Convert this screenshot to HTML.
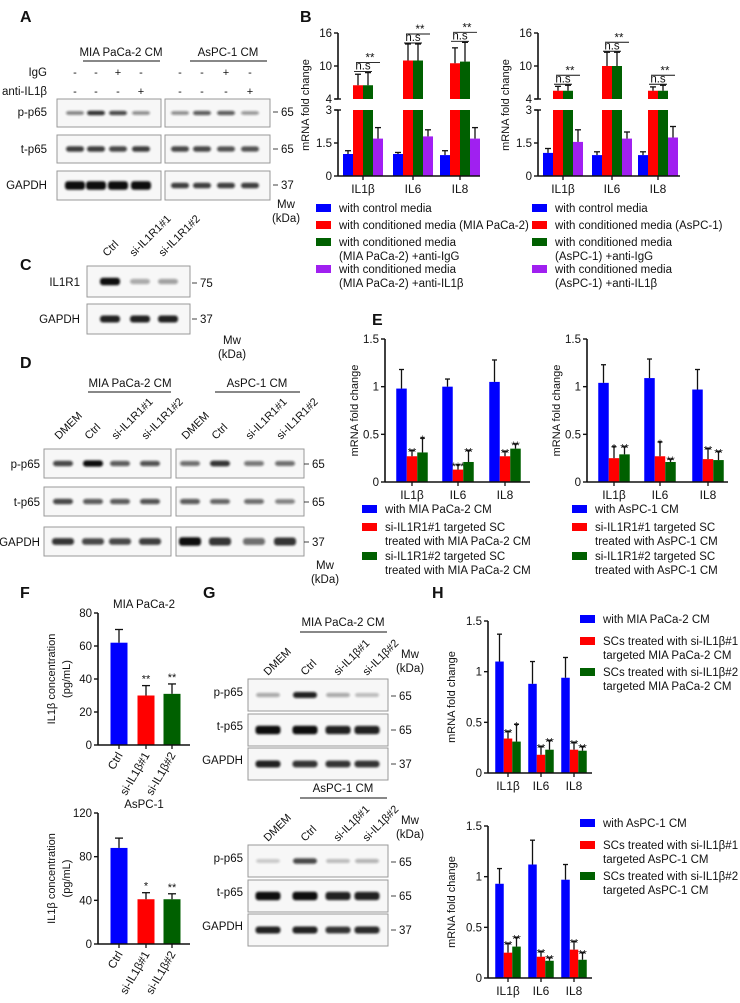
<!DOCTYPE html>
<html><head><meta charset="utf-8"><style>
html,body{margin:0;padding:0;background:#fff}
svg{display:block;font-family:"Liberation Sans",Arial,sans-serif}
</style></head><body>
<svg id="fig" width="740" height="1003" viewBox="0 0 740 1003" xmlns="http://www.w3.org/2000/svg">
<defs><filter id="blur" x="-20%" y="-100%" width="140%" height="300%"><feGaussianBlur stdDeviation="1.1"/></filter></defs>
</svg>
<script>
// ---------- Panel B data ----------
const bGenes = ["IL1β","IL6","IL8"];
const bLeftVals = [[1.0,6.5,6.5,1.7],[1.0,11,11,1.8],[0.95,10.5,10.8,1.7]];
const bLeftErrs = [[0.15,2,2.3,0.5],[0.07,3,3,0.3],[0.2,2.8,3.5,0.5]];
const bRightVals = [[1.05,5.5,5.5,1.55],[0.95,10,10,1.7],[0.95,5.5,5.5,1.75]];
const bRightErrs = [[0.2,0.8,1,0.55],[0.15,2.5,2.5,0.3],[0.15,0.7,1,0.5]];
const bTickLabels = ["0","1.5","3","4","10","16"];
const bTickValues = [0,1.5,3,4,10,16];
// ---------- Panel E data ----------
const eLeftVals = [[0.98,0.27,0.31],[1.0,0.13,0.21],[1.05,0.27,0.35]];
const eLeftErrs = [[0.2,0.06,0.15],[0.08,0.05,0.12],[0.23,0.05,0.05]];
const eLeftStars = [["","**","*"],["","***","**"],["","**","**"]];
const eRightVals = [[1.04,0.25,0.29],[1.09,0.27,0.21],[0.97,0.24,0.23]];
const eRightErrs = [[0.19,0.12,0.08],[0.2,0.15,0.03],[0.21,0.11,0.09]];
const eRightStars = [["","*","**"],["","*","**"],["","**","**"]];
const foldTicks = [0,0.5,1,1.5];
const foldTickLabels = ["0","0.5","1","1.5"];
// ---------- Panel F data ----------
const fCats = ["Ctrl","si-IL1β#1","si-IL1β#2"];
const fTopVals = [62,30,31];
const fTopErrs = [8,6,6];
const fTopStars = ["","**","**"];
const fTopTicks = [0,20,40,60,80];
const fBotVals = [88,41,41];
const fBotErrs = [9,6,5];
const fBotStars = ["","*","**"];
const fBotTicks = [0,40,80,120];
// ---------- Panel H data ----------
const hTopVals = [[1.1,0.34,0.31],[0.88,0.18,0.23],[0.94,0.23,0.22]];
const hTopErrs = [[0.27,0.07,0.17],[0.22,0.08,0.09],[0.2,0.07,0.04]];
const hTopStars = [["","**","*"],["","**","**"],["","**","**"]];
const hBotVals = [[0.93,0.25,0.31],[1.12,0.21,0.17],[0.97,0.28,0.18]];
const hBotErrs = [[0.15,0.09,0.09],[0.24,0.05,0.03],[0.15,0.08,0.07]];
const hBotStars = [["","**","**"],["","**","**"],["","**","**"]];

const BLUE="#0000ff", RED="#ff0000", GREEN="#006000", PURPLE="#a020f0";
const svg=document.getElementById('fig');
const NS="http://www.w3.org/2000/svg";
function el(tag,attrs,parent){const e=document.createElementNS(NS,tag);for(const k in attrs)e.setAttribute(k,attrs[k]);(parent||svg).appendChild(e);return e;}
function txt(x,y,s,size,anchor,parent,extra){const t=el('text',Object.assign({x:x,y:y,'font-size':size||11,'text-anchor':anchor||'start',fill:'#111'},extra||{}),parent);t.textContent=s;return t;}
function grp(name){const g=el('g',{});return g;}
function line(x1,y1,x2,y2,p,w){return el('line',{x1:x1,y1:y1,x2:x2,y2:y2,stroke:'#111','stroke-width':w||1.3},p);}

[["A",20,22],["B",300,22],["C",20,270],["D",20,368],["E",372,325],["F",20,598],["G",203,598],["H",432,598]].forEach(a=>{
  const t=txt(a[1],a[2],a[0],16,'start',svg,{'font-weight':'bold'});
  
  
});

function blot(g,x,y,w,h,lanes,ints,bw,bh){
  el('rect',{x:x,y:y,width:w,height:h,fill:'#f7f7f7',stroke:'#999','stroke-width':1},g);
  lanes.forEach((lx,i)=>{
    const a=ints[i];
    el('rect',{x:lx-bw/2,y:y+h/2-bh*(0.5+0.3*a)/1.3,width:bw,height:bh*(0.5+0.3*a)/0.65,rx:3,fill:'#111',opacity:Math.min(1,0.15+0.85*a),filter:'url(#blur)'},g);
  });
}
function rowLabel(g,x,y,s){txt(x,y,s,11.5,'end',g);}
function mw(g,x,y,s){line(x,y-4,x+5,y-4,g,0.8);txt(x+8,y,s,11.5,'start',g);}
function rotLabel(g,x,y,s){txt(x,y,s,11,'start',g,{transform:`rotate(-45 ${x} ${y})`});}

(function(){
  const g=grp('panel-a-western-blot');
  txt(121,56,'MIA PaCa-2 CM',11.5,'middle',g); line(83,61,160,61,g,1);
  txt(228,56,'AsPC-1 CM',11.5,'middle',g); line(190,61,267,61,g,1);
  rowLabel(g,47,76,'IgG'); rowLabel(g,47,95,'anti-IL1β');
  const L1=[75,96,118,141],L2=[180,202,226,250];
  const igg=['-','-','+','-'],anti=['-','-','-','+'];
  L1.concat(L2).forEach((x,i)=>{txt(x,76,igg[i%4],11,'middle',g);txt(x,95,anti[i%4],11,'middle',g);});
  rowLabel(g,47,116,'p-p65');rowLabel(g,47,153,'t-p65');rowLabel(g,47,189,'GAPDH');
  blot(g,57,99,104,28,L1,[0.4,0.8,0.7,0.35],18,4);
  blot(g,165,99,105,28,L2,[0.35,0.6,0.6,0.3],18,4);
  blot(g,57,135,104,28,L1,[0.75,0.75,0.7,0.75],18,5);
  blot(g,165,135,105,28,L2,[0.7,0.7,0.65,0.65],18,5);
  blot(g,57,171,104,29,L1,[1,1,1,1],20,7);
  blot(g,165,171,105,29,L2,[0.75,0.75,0.75,0.75],18,5);
  mw(g,273,116,'65');mw(g,273,153,'65');mw(g,273,189,'37');
  txt(286,208,'Mw',11.5,'middle',g);txt(286,222,'(kDa)',11.5,'middle',g);
})();
(function(){
  const g=grp('panel-c-western-blot');
  const L=[110,140,168];
  rotLabel(g,107,257,'Ctrl');rotLabel(g,134,257,'si-IL1R1#1');rotLabel(g,163,257,'si-IL1R1#2');
  rowLabel(g,80,286,'IL1R1');rowLabel(g,80,323,'GAPDH');
  blot(g,87,266,103,31,L,[1,0.2,0.25],20,6);
  blot(g,87,304,103,30,L,[0.9,0.9,0.9],20,6);
  mw(g,192,287,'75');mw(g,192,323,'37');
  txt(232,344,'Mw',11.5,'middle',g);txt(232,358,'(kDa)',11.5,'middle',g);
})();
(function(){
  const g=grp('panel-d-western-blot');
  txt(130,387,'MIA PaCa-2 CM',11.5,'middle',g);line(88,392,171,392,g,1);
  txt(257,387,'AsPC-1 CM',11.5,'middle',g);line(215,392,300,392,g,1);
  const L1=[63,93,120,150],L2=[190,220,254,285];
  const names=['DMEM','Ctrl','si-IL1R1#1','si-IL1R1#2'];
  L1.concat(L2).forEach((x,i)=>rotLabel(g,x-4,440,names[i%4]));
  rowLabel(g,40,468,'p-p65');rowLabel(g,40,506,'t-p65');rowLabel(g,40,546,'GAPDH');
  blot(g,44,449,127,29,L1,[0.7,1,0.6,0.65],20,5);
  blot(g,176,449,128,29,L2,[0.5,0.8,0.45,0.5],20,5);
  blot(g,44,487,127,29,L1,[0.7,0.6,0.6,0.65],20,5);
  blot(g,176,487,128,29,L2,[0.6,0.55,0.5,0.4],20,5);
  blot(g,44,527,127,29,L1,[0.8,0.7,0.7,0.75],22,6);
  blot(g,176,527,128,29,L2,[1,0.8,0.5,0.8],22,7);
  mw(g,304,468,'65');mw(g,304,506,'65');mw(g,304,546,'37');
  txt(325,569,'Mw',11.5,'middle',g);txt(325,583,'(kDa)',11.5,'middle',g);
})();
(function(){
  function one(name,y0,title,ints){
    const g=grp(name);
    const L=[268,305,338,367];
    const names=['DMEM','Ctrl','si-IL1β#1','si-IL1β#2'];
    txt(343,y0-8,title,11.5,'middle',g);line(300,y0-2,387,y0-2,g,1);
    L.forEach((x,i)=>rotLabel(g,x,y0+42,names[i]));
    txt(410,y0+24,'Mw',11.5,'middle',g);txt(410,y0+38,'(kDa)',11.5,'middle',g);
    rowLabel(g,243,y0+62,'p-p65');rowLabel(g,243,y0+96,'t-p65');rowLabel(g,243,y0+130,'GAPDH');
    blot(g,248,y0+45,140,32,L,ints[0],24,5);
    blot(g,248,y0+80,140,32,L,ints[1],25,7);
    blot(g,248,y0+114,140,32,L,ints[2],25,6);
    mw(g,391,y0+66,'65');mw(g,391,y0+100,'65');mw(g,391,y0+134,'37');
  }
  one('panel-g-blot-mia',634,'MIA PaCa-2 CM',[[0.2,0.9,0.2,0.12],[1,1,0.9,0.9],[0.9,0.8,0.8,0.8]]);
  one('panel-g-blot-aspc',800,'AsPC-1 CM',[[0.05,0.7,0.12,0.15],[1,1,0.9,0.9],[0.9,0.9,0.8,0.85]]);
})();

function errBar(g,cx,yTop,yErr,cap){line(cx,yTop,cx,yErr,g,1.3);line(cx-cap,yErr,cx+cap,yErr,g,1.3);}
function yAxis(g,x,yOf,ticks,labels,top,bottom){
  line(x,top,x,bottom+0.5,g,1.6);
  ticks.forEach((t,i)=>{const y=yOf(t);line(x-4,y,x,y,g,1.4);txt(x-6,y+4,labels[i],11.5,'end',g);});
}
function yTitle(g,x,y,s){txt(x,y,s,11,'middle',g,{transform:`rotate(-90 ${x} ${y})`});}
function legend(g,x,y,color,lines){
  el('rect',{x:x,y:y-8,width:15,height:8,fill:color},g);
  lines.forEach((s,i)=>txt(x+23,y+i*14,s,11.5,'start',g));
}

function brokenChart(name,ax,vals,errs,titleX,centers){
  const g=grp(name);
  const yOf=v=>v<=3?176-v*22:99-(v-4)*5.5;
  const colors=[BLUE,RED,GREEN,PURPLE];const bw=10;
  vals.forEach((gv,gi)=>{
    gv.forEach((v,si)=>{
      const x=centers[gi]+(si-2)*bw;
      const r=el('rect',{x:x,y:v<=3?yOf(v):110,width:bw,height:v<=3?176-yOf(v):66,fill:colors[si]},g);
      
      if(v>3){el('rect',{x:x,y:yOf(v),width:bw,height:99-yOf(v),fill:colors[si]},g);}
      errBar(g,x+bw/2,yOf(v),yOf(v+errs[gi][si]),3);
    });
    const topY=Math.min(yOf(gv[1]+errs[gi][1]),yOf(gv[2]+errs[gi][2]));
    const xr=centers[gi]-bw/2,xg=centers[gi]+bw/2,xp=centers[gi]+1.5*bw;
    txt(centers[gi],topY-3,'n.s',11.5,'middle',g);line(xr-4,topY-1,xg+4,topY-1,g,0.9);
    txt((xr+xp)/2+2,topY-11,'**',11.5,'middle',g);line(xr-2,topY-10,xp+2,topY-10,g,0.9);
  });
  line(ax,176,ax+142,176,g,1.6);
  line(ax,33,ax,99,g,1.6);line(ax,110,ax,176.5,g,1.6);
  line(ax-3,99,ax+3,99,g,1.4);line(ax-3,110,ax+3,110,g,1.4);
  bTickValues.forEach((t,i)=>{const y=yOf(t);line(ax-4,y,ax,y,g,1.4);txt(ax-6,y+4,bTickLabels[i],11.5,'end',g);});
  bGenes.forEach((s,i)=>{line(centers[i],176,centers[i],180,g,1.3);txt(centers[i],193,s,12,'middle',g);});
  yTitle(g,titleX,105,'mRNA fold change');
}
brokenChart('panel-b-mia-chart',338,bLeftVals,bLeftErrs,309,[363,413,460]);
brokenChart('panel-b-aspc-chart',538,bRightVals,bRightErrs,509,[563,612,658]);
(function(){
  const g=grp('panel-b-legend');
  legend(g,316,212,BLUE,['with control media']);
  legend(g,316,229,RED,['with conditioned media (MIA PaCa-2)']);
  legend(g,316,246,GREEN,['with conditioned media','(MIA PaCa-2) +anti-IgG']);
  legend(g,316,273,PURPLE,['with conditioned media','(MIA PaCa-2) +anti-IL1β']);
  legend(g,532,212,BLUE,['with control media']);
  legend(g,532,229,RED,['with conditioned media (AsPC-1)']);
  legend(g,532,246,GREEN,['with conditioned media','(AsPC-1) +anti-IgG']);
  legend(g,532,273,PURPLE,['with conditioned media','(AsPC-1) +anti-IL1β']);
})();

function foldChart(name,ax,top,bottom,axEnd,centers,bw,vals,errs,stars,titleX){
  const g=grp(name);
  const yOf=v=>bottom-(v/1.5)*(bottom-top);
  const colors=[BLUE,RED,GREEN];
  vals.forEach((gv,gi)=>{
    gv.forEach((v,si)=>{
      const x=centers[gi]+(si-1.5)*bw;
      const r=el('rect',{x:x,y:yOf(v),width:bw,height:bottom-yOf(v),fill:colors[si]},g);
      
      const ye=yOf(v+errs[gi][si]);
      errBar(g,x+bw/2,yOf(v),ye,2.5);
      if(stars[gi][si])txt(x+bw/2,ye+5,stars[gi][si],11,'middle',g);
    });
  });
  yAxis(g,ax,yOf,foldTicks,foldTickLabels,top,bottom);
  line(ax,bottom,axEnd,bottom,g,1.6);
  bGenes.forEach((s,i)=>{line(centers[i],bottom,centers[i],bottom+4,g,1.3);txt(centers[i],bottom+17,s,12,'middle',g);});
  yTitle(g,titleX,(top+bottom)/2,'mRNA fold change');
}
foldChart('panel-e-mia-chart',385,339,482,530,[412,458,505],10.5,eLeftVals,eLeftErrs,eLeftStars,358);
foldChart('panel-e-aspc-chart',587,339,482,728,[614,660,708],10.5,eRightVals,eRightErrs,eRightStars,560);
(function(){
  const g=grp('panel-e-legend');
  legend(g,362,513,BLUE,['with MIA PaCa-2 CM']);
  legend(g,362,531,RED,['si-IL1R1#1 targeted SC','treated with MIA PaCa-2 CM']);
  legend(g,362,560,GREEN,['si-IL1R1#2 targeted SC','treated with MIA PaCa-2 CM']);
  legend(g,572,513,BLUE,['with AsPC-1 CM']);
  legend(g,572,531,RED,['si-IL1R1#1 targeted SC','treated with AsPC-1 CM']);
  legend(g,572,560,GREEN,['si-IL1R1#2 targeted SC','treated with AsPC-1 CM']);
})();
foldChart('panel-h-mia-chart',488,621,773,592,[508,541,574],8.5,hTopVals,hTopErrs,hTopStars,455);
foldChart('panel-h-aspc-chart',488,826,978,592,[508,541,574],8.5,hBotVals,hBotErrs,hBotStars,455);
(function(){
  const g=grp('panel-h-legend');
  legend(g,580,623,BLUE,['with MIA PaCa-2 CM']);
  legend(g,580,645,RED,['SCs treated with si-IL1β#1','targeted MIA PaCa-2 CM']);
  legend(g,580,676,GREEN,['SCs treated with si-IL1β#2','targeted MIA PaCa-2 CM']);
  legend(g,580,827,BLUE,['with AsPC-1 CM']);
  legend(g,580,849,RED,['SCs treated with si-IL1β#1','targeted AsPC-1 CM']);
  legend(g,580,880,GREEN,['SCs treated with si-IL1β#2','targeted AsPC-1 CM']);
})();

function fChart(name,top,bottom,max,ticks,vals,errs,stars,title){
  const g=grp(name);
  const ax=98,centers=[119,146,172],bw=17;
  const yOf=v=>bottom-(v/max)*(bottom-top);
  const colors=[BLUE,RED,GREEN];
  vals.forEach((v,i)=>{
    const r=el('rect',{x:centers[i]-bw/2,y:yOf(v),width:bw,height:bottom-yOf(v),fill:colors[i]},g);
    
    const ye=yOf(v+errs[i]);errBar(g,centers[i],yOf(v),ye,4);
    if(stars[i])txt(centers[i],ye-3,stars[i],11,'middle',g);
  });
  yAxis(g,ax,yOf,ticks,ticks.map(String),top,bottom);
  line(ax,bottom,190,bottom,g,1.6);
  fCats.forEach((s,i)=>{line(centers[i],bottom,centers[i],bottom+4,g,1.3);
    const x=centers[i]+4,y=bottom+10;txt(x,y,s,11.5,'end',g,{transform:`rotate(-60 ${x} ${y})`});});
  txt(144,top-5,title,11.5,'middle',g);
  yTitle(g,55,(top+bottom)/2,'IL1β concentration');yTitle(g,70,(top+bottom)/2,'(pg/mL)');
}
fChart('panel-f-mia-chart',613,745,80,fTopTicks,fTopVals,fTopErrs,fTopStars,'MIA PaCa-2');
fChart('panel-f-aspc-chart',813,944,120,fBotTicks,fBotVals,fBotErrs,fBotStars,'AsPC-1');
</script>
</body></html>
